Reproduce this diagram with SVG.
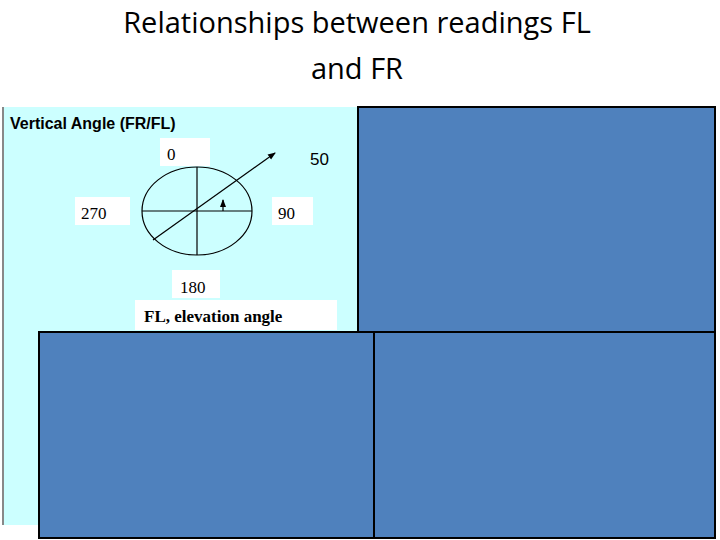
<svg xmlns="http://www.w3.org/2000/svg" width="720" height="540" viewBox="0 0 720 540">
<style>
.t{font-family:"Open Sans","Liberation Sans",sans-serif;font-size:29px;fill:#000;text-anchor:middle}
.s{font-family:"Liberation Serif",serif;font-size:17px;fill:#000}
.w{fill:#fff}
.b{fill:#4f81bd;stroke:#000;stroke-width:2}
.l{stroke:#000;stroke-width:1.2;fill:none}
</style>
<defs><marker id="a" markerWidth="8" markerHeight="8" refX="7" refY="4" orient="auto" markerUnits="userSpaceOnUse"><path d="M0,1 L8,4 L0,7 z" fill="#000"/></marker></defs>
<rect width="720" height="540" fill="#fff"/>
<text class="t" x="357" y="33">Relationships between readings FL</text>
<text class="t" x="357" y="79">and FR</text>
<g id="figure">
<rect x="3" y="107" width="355" height="418" fill="#ccffff"/>
<rect x="2" y="107" width="2" height="418" fill="#888"/>
<text x="10" y="129" font-family="Liberation Sans,sans-serif" font-weight="bold" font-size="16">Vertical Angle (FR/FL)</text>
<rect class="w" x="160" y="138" width="50" height="28"/><text class="s" x="167" y="160">0</text>
<rect class="w" x="75" y="197" width="55" height="28"/><text class="s" x="81" y="219">270</text>
<rect class="w" x="272" y="197" width="41" height="28"/><text class="s" x="278" y="219">90</text>
<rect class="w" x="172" y="270" width="48" height="28"/><text class="s" x="180" y="293">180</text>
<rect class="w" x="135" y="300" width="202" height="30"/><text class="s" x="144" y="322" font-weight="bold">FL, elevation angle</text>
<text x="310" y="165" font-family="Liberation Sans,sans-serif" font-size="17">50</text>
<ellipse class="l" cx="197" cy="211" rx="55" ry="44"/>
<line class="l" x1="197" y1="167" x2="197" y2="255"/>
<line class="l" x1="142" y1="211" x2="252" y2="211"/>
<line class="l" x1="153" y1="240" x2="275" y2="153" marker-end="url(#a)"/>
<line class="l" x1="223" y1="211" x2="223" y2="200" marker-end="url(#a)"/>
</g>
<g id="box1"><rect class="b" x="358" y="107" width="357" height="225"/></g>
<g id="box2"><rect class="b" x="39" y="332" width="335" height="206"/></g>
<g id="box3"><rect class="b" x="374" y="332" width="341" height="206"/></g>
<g id="connectors"/>
</svg>
